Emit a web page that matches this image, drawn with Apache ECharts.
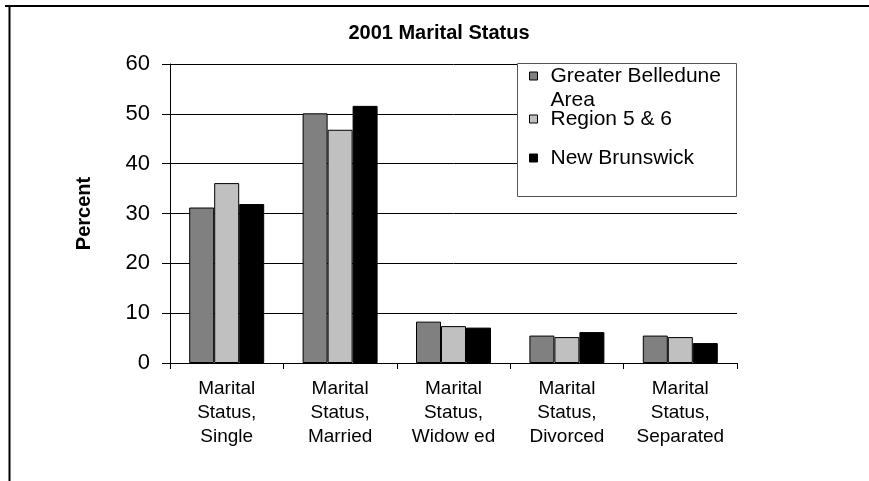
<!DOCTYPE html>
<html>
<head>
<meta charset="utf-8">
<script src="https://cdn.jsdelivr.net/npm/echarts@6/dist/echarts.min.js"></script>
<style>
    html, body { margin: 0; padding: 0; background: #fff; }
    #chartBlock { width: 869px; height: 481px; }
</style>
</head>
<body>
<div id="chartBlock"></div>
<script>
const categories = [
    'Marital\nStatus,\nSingle',
    'Marital\nStatus,\nMarried',
    'Marital\nStatus,\nWidow ed',
    'Marital\nStatus,\nDivorced',
    'Marital\nStatus,\nSeparated'
];
const seriesNames = ['Greater Belledune Area', 'Region 5 & 6', 'New Brunswick'];
const belleduneValues = [31.2, 50.1, 8.3, 5.5, 5.5];
const regionValues = [36.1, 46.8, 7.4, 5.2, 5.2];
const brunswickValues = [31.9, 51.6, 7.1, 6.2, 4.0];
const yTicks = [0, 10, 20, 30, 40, 50, 60];

const font = 'Liberation Sans, Arial, sans-serif';
const colors = ['#808080', '#c0c0c0', '#000000'];

function makeBar(name, values, color) {
    return {
        name: name,
        type: 'bar',
        data: values,
        barWidth: 25,
        barGap: '0%',
        itemStyle: {
            color: color,
            borderColor: '#000',
            borderWidth: 1
        }
    };
}

// one legend per entry so the two-line first entry keeps its square on the first line
function makeLegend(name, top, label) {
    return {
        orient: 'vertical',
        left: 529,
        top: top,
        padding: 0,
        z: 10,
        icon: 'rect',
        itemWidth: 8,
        itemHeight: 8,
        selectedMode: false,
        data: [name],
        formatter: () => label,
        itemStyle: { borderColor: '#000', borderWidth: 1 },
        textStyle: {
            fontFamily: font,
            fontSize: 21,
            color: '#000',
            lineHeight: 24,
            padding: [0, 0, 0, 8]
        }
    };
}

let option = {
    animation: false,
    color: colors,
    title: {
        text: '2001 Marital Status',
        left: 434,
        textAlign: 'center',
        top: 18,
        textStyle: { fontFamily: font, fontSize: 20, fontWeight: 'bold', color: '#000' }
    },
    legend: [
        makeLegend(seriesNames[0], 40, '\nGreater Belledune\nArea'),
        makeLegend(seriesNames[1], 107, 'Region 5 & 6'),
        makeLegend(seriesNames[2], 146, 'New Brunswick')
    ],
    grid: { left: 170, top: 64, right: 132, bottom: 118 },
    xAxis: {
        type: 'category',
        data: categories,
        axisLine: { lineStyle: { color: '#000', width: 1 } },
        axisTick: { show: true, length: 6, lineStyle: { color: '#000' } },
        axisLabel: {
            interval: 0,
            margin: 14,
            fontFamily: font,
            fontSize: 19,
            lineHeight: 24,
            color: '#000'
        }
    },
    yAxis: {
        type: 'value',
        min: yTicks[0],
        max: yTicks[yTicks.length - 1],
        interval: 10,
        name: 'Percent',
        nameLocation: 'middle',
        nameRotate: 90,
        nameGap: 76,
        nameTextStyle: { fontFamily: font, fontSize: 20, fontWeight: 'bold', color: '#000' },
        axisLine: { show: true, lineStyle: { color: '#000', width: 1 } },
        axisTick: { show: true, inside: false, length: 8, lineStyle: { color: '#000' } },
        axisLabel: { margin: 20, fontFamily: font, fontSize: 22, color: '#000' },
        splitLine: { show: true, lineStyle: { color: '#000', width: 1 } }
    },
    graphic: [
        {
            type: 'rect',
            shape: { x: 517.5, y: 63.5, width: 219, height: 133 },
            style: { fill: '#fff', stroke: '#555', lineWidth: 1 },
            z: 3
        },
        {
            type: 'line',
            shape: { x1: 5, y1: 6, x2: 869, y2: 6 },
            style: { stroke: '#000', lineWidth: 2 }
        },
        {
            type: 'line',
            shape: { x1: 9.5, y1: 5, x2: 9.5, y2: 481 },
            style: { stroke: '#000', lineWidth: 2 }
        }
    ],
    series: [
        makeBar(seriesNames[0], belleduneValues, colors[0]),
        makeBar(seriesNames[1], regionValues, colors[1]),
        makeBar(seriesNames[2], brunswickValues, colors[2])
    ]
};

let myChart = echarts.init(document.querySelector('#chartBlock'));
myChart.setOption(option);
</script>
</body>
</html>
